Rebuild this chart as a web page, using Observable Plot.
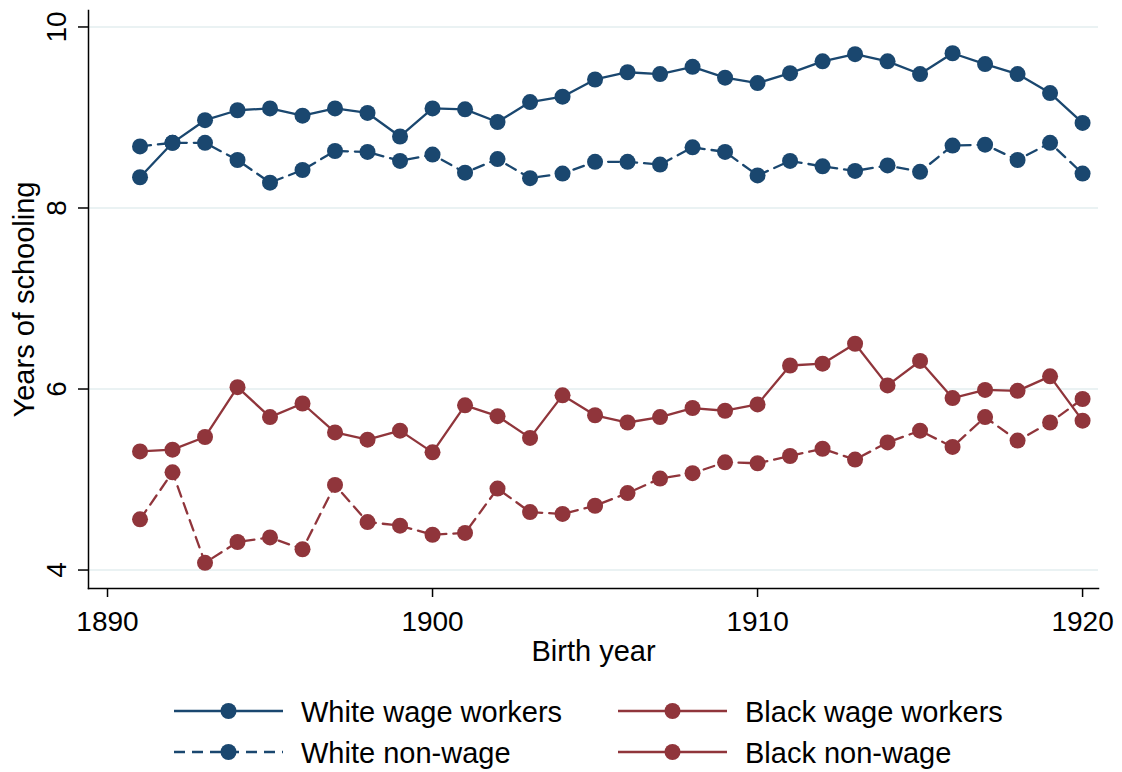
<!DOCTYPE html>
<html>
<head>
<meta charset="utf-8">
<script src="https://cdn.jsdelivr.net/npm/d3@7"></script>
<script src="https://cdn.jsdelivr.net/npm/@observablehq/plot@0.6"></script>
<style>
  body { margin: 0; background: #fff; color: #000; font-family: "Liberation Sans", Arial, sans-serif; }
  #legend { position: relative; height: 100px; width: 1122px; }
  .item { position: absolute; height: 40px; display: flex; align-items: center; font-size: 29px; white-space: nowrap; }
  .item svg { margin-right: 18px; }
  .item span { position: relative; top: 1px; }
</style>
</head>
<body>
<div id="chart"></div>
<div id="legend"></div>
<script>
// Birth cohorts
const years = [1891, 1892, 1893, 1894, 1895, 1896, 1897, 1898, 1899, 1900,
               1901, 1902, 1903, 1904, 1905, 1906, 1907, 1908, 1909, 1910,
               1911, 1912, 1913, 1914, 1915, 1916, 1917, 1918, 1919, 1920];

// Average years of schooling by cohort
const whiteWage = [8.34, 8.72, 8.97, 9.08, 9.10, 9.02, 9.10, 9.05, 8.79, 9.10,
                   9.09, 8.95, 9.17, 9.23, 9.42, 9.50, 9.48, 9.56, 9.44, 9.38,
                   9.49, 9.62, 9.70, 9.62, 9.48, 9.71, 9.59, 9.48, 9.27, 8.94];
const whiteNonWage = [8.68, 8.72, 8.72, 8.53, 8.28, 8.42, 8.63, 8.62, 8.52, 8.59,
                      8.39, 8.54, 8.33, 8.38, 8.51, 8.51, 8.48, 8.67, 8.62, 8.36,
                      8.52, 8.46, 8.41, 8.47, 8.40, 8.69, 8.70, 8.53, 8.72, 8.38];
const blackWage = [5.31, 5.33, 5.47, 6.02, 5.69, 5.84, 5.52, 5.44, 5.54, 5.30,
                   5.82, 5.70, 5.46, 5.93, 5.71, 5.63, 5.69, 5.79, 5.76, 5.83,
                   6.26, 6.28, 6.50, 6.04, 6.31, 5.90, 5.99, 5.98, 6.14, 5.65];
const blackNonWage = [4.56, 5.08, 4.08, 4.31, 4.36, 4.23, 4.94, 4.53, 4.49, 4.39,
                      4.41, 4.90, 4.64, 4.62, 4.71, 4.85, 5.01, 5.07, 5.19, 5.18,
                      5.26, 5.34, 5.22, 5.41, 5.54, 5.36, 5.69, 5.43, 5.63, 5.89];

const xTicks = [1890, 1900, 1910, 1920];
const yTicks = [4, 6, 8, 10];

const navy = "#1a476f";
const maroon = "#90353b";

// Series definitions (legend swatch for the last series is drawn solid)
const series = [
  {name: "White wage workers", values: whiteWage, color: navy, dash: null, legendDash: null},
  {name: "White non-wage", values: whiteNonWage, color: navy, dash: "11 7", legendDash: "11 7"},
  {name: "Black wage workers", values: blackWage, color: maroon, dash: null, legendDash: null},
  {name: "Black non-wage", values: blackNonWage, color: maroon, dash: "11 7", legendDash: null}
];

const tables = series.map(s => years.map((year, i) => ({year, value: s.values[i], series: s.name})));

const marks = [
  Plot.gridY(yTicks, {stroke: "#eaf2f3", strokeOpacity: 1, strokeWidth: 2}),
  Plot.frame({anchor: "left", stroke: "#000", strokeWidth: 1.5}),
  Plot.frame({anchor: "bottom", stroke: "#000", strokeWidth: 1.5}),
  Plot.axisX(xTicks, {tickSize: 9, tickPadding: 14, fontSize: 28, tickFormat: d => String(d), label: null, strokeWidth: 1.5}),
  Plot.axisX({ticks: [], tickSize: 0, label: "Birth year", labelAnchor: "center", labelOffset: 72, labelArrow: "none", fontSize: 29}),
  Plot.axisY(yTicks, {tickSize: 10, tickPadding: 13, tickRotate: -90, fontSize: 28, tickFormat: d => String(d), label: null, strokeWidth: 1.5}),
  Plot.axisY({ticks: [], tickSize: 0, label: "Years of schooling", labelAnchor: "center", labelOffset: 75, labelArrow: "none", fontSize: 29})
];

series.forEach((s, k) => {
  marks.push(Plot.line(tables[k], {x: "year", y: "value", stroke: s.color, strokeWidth: 2.3, strokeDasharray: s.dash, strokeLinejoin: "round"}));
  marks.push(Plot.dot(tables[k], {x: "year", y: "value", r: 8, fill: s.color, stroke: "none"}));
});

const chart = Plot.plot({
  width: 1122,
  height: 672,
  marginLeft: 88,
  marginRight: 24,
  marginTop: 10,
  marginBottom: 84,
  style: {fontFamily: "'Liberation Sans', Arial, sans-serif", background: "#fff", color: "#000"},
  x: {domain: [1889.415, 1920.49]},
  y: {domain: [3.796, 10.182]},
  marks
});
document.getElementById("chart").appendChild(chart);

// Legend: two columns, two rows
const legend = d3.select("#legend");
const slots = [
  {left: 174, top: 19},
  {left: 174, top: 60},
  {left: 618, top: 19},
  {left: 618, top: 60}
];
series.forEach((s, k) => {
  const item = legend.append("div").attr("class", "item")
    .style("left", slots[k].left + "px").style("top", slots[k].top + "px");
  const sw = item.append("svg").attr("width", 109).attr("height", 20);
  sw.append("line").attr("x1", 0).attr("x2", 109).attr("y1", 10).attr("y2", 10)
    .attr("stroke", s.color).attr("stroke-width", 2.3)
    .attr("stroke-dasharray", s.legendDash);
  sw.append("circle").attr("cx", 54.5).attr("cy", 10).attr("r", 8).attr("fill", s.color);
  item.append("span").text(s.name);
});
</script>
</body>
</html>
